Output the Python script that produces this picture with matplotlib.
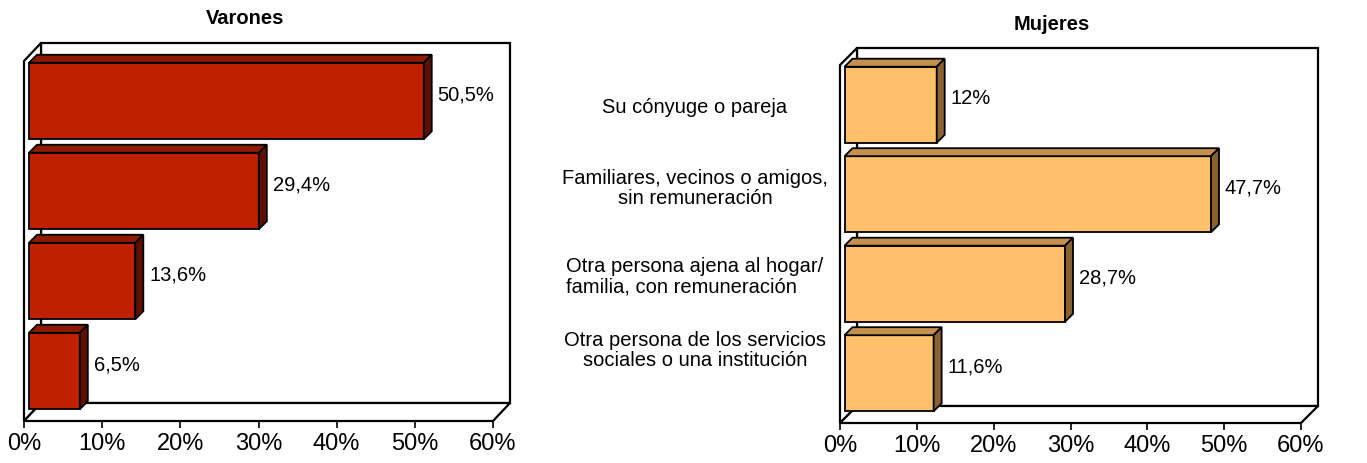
import numpy as np
import matplotlib.pyplot as plt
from matplotlib import transforms
from matplotlib.patches import Polygon

plt.rcParams['font.family'] = ['Liberation Sans', 'DejaVu Sans']

# Datos
categorias = ["Su cónyuge o pareja",
              "Familiares, vecinos o amigos,\nsin remuneración",
              "Otra persona ajena al hogar/\nfamilia, con remuneración",
              "Otra persona de los servicios\nsociales o una institución"]
varones = [50.5, 29.4, 13.6, 6.5]
mujeres = [12, 47.7, 28.7, 11.6]
ticks = [0, 10, 20, 30, 40, 50, 60]

W, H = 1367, 463
fig = plt.figure(figsize=(W / 100, H / 100), dpi=100)
ID = transforms.IdentityTransform()


def pct(v):
    return format(v, 'g').replace('.', ',') + '%'


def panel(left, right, top, bottom, values, colors, depth, shift):
    ax = fig.add_axes([left / W, 1 - bottom / H, (right - left) / W, (bottom - top) / H])
    ax.set_xlim(0, 60)
    ax.set_ylim(3.5, -0.5)
    ax.patch.set_visible(False)
    for s in ax.spines.values():
        s.set_visible(False)
    ax.set_yticks([])
    ax.set_xticks(ticks)
    ax.set_xticklabels([f"{t}%" for t in ticks], fontsize=17)
    ax.tick_params(axis='x', length=5, width=1.2, pad=4)

    def P(x, y, dx=0, dy=0):
        X, Y = ax.transData.transform((x, y))
        return (X + dx, Y + dy)

    dx, dy = depth
    # caja 3D: pared del fondo, pared izquierda, suelo
    back = [P(0, -0.5, dx, dy), P(60, -0.5, dx, dy), P(60, 3.5, dx, dy), P(0, 3.5, dx, dy)]
    wall = [P(0, -0.5), P(0, -0.5, dx, dy), P(0, 3.5, dx, dy), P(0, 3.5)]
    floor = [P(0, 3.5), P(60, 3.5), P(60, 3.5, dx, dy), P(0, 3.5, dx, dy)]
    for pts in (back, wall, floor):
        ax.add_patch(Polygon(pts, closed=True, transform=ID, facecolor='white',
                             edgecolor='black', lw=1.6, clip_on=False, zorder=1))

    sx, sy = shift
    bd = 8
    h = 0.85
    front, topc, sidec = colors
    T = transforms.offset_copy(ax.transData, fig=fig, x=sx, y=sy, units='dots')
    ax.barh(range(len(values)), values, height=h, transform=T, color=front,
            edgecolor='black', lw=1.3, zorder=3, clip_on=False)
    for i, v in enumerate(values):
        yt, yb = i - h / 2, i + h / 2
        topf = [P(0, yt, sx, sy), P(v, yt, sx, sy), P(v, yt, sx + bd, sy + bd), P(0, yt, sx + bd, sy + bd)]
        side = [P(v, yt, sx, sy), P(v, yb, sx, sy), P(v, yb, sx + bd, sy + bd), P(v, yt, sx + bd, sy + bd)]
        ax.add_patch(Polygon(topf, closed=True, transform=ID, facecolor=topc,
                             edgecolor='black', lw=1.3, clip_on=False, zorder=3))
        ax.add_patch(Polygon(side, closed=True, transform=ID, facecolor=sidec,
                             edgecolor='black', lw=1.3, clip_on=False, zorder=3))
        ax.annotate(pct(v), xy=(v, i), xytext=(sx + bd + 6, sy + 6),
                    textcoords='offset pixels', ha='left', va='center', fontsize=14.5)
    return ax


ax1 = panel(24, 493, 61, 421, varones, ('#BE2000', '#8E1A00', '#5E1000'), (17, 18), (5, 5))
ax2 = panel(840, 1301, 65, 423, mujeres, ('#FFC06C', '#C4904E', '#8A6232'), (17, 17), (4.5, 5))

fig.text(245 / W, 1 - 19 / H, 'Varones', ha='center', va='center', fontsize=14.5, fontweight='bold')
fig.text(1052 / W, 1 - 24 / H, 'Mujeres', ha='center', va='center', fontsize=14.5, fontweight='bold')

# etiquetas de categorías entre los dos paneles
nudges = [2, 11, 12, 28]
aligns = ['center', 'center', 'left', 'center']
blend = transforms.blended_transform_factory(fig.transFigure, ax2.transData)
for i, (lab, nd, al) in enumerate(zip(categorias, nudges, aligns)):
    tr = transforms.offset_copy(blend, fig=fig, x=0, y=nd, units='dots')
    fig.text(695 / W, i, lab, transform=tr, ha='center', va='center',
             multialignment=al, fontsize=14.5, linespacing=1.1)

fig.savefig('out.png', dpi=100)
